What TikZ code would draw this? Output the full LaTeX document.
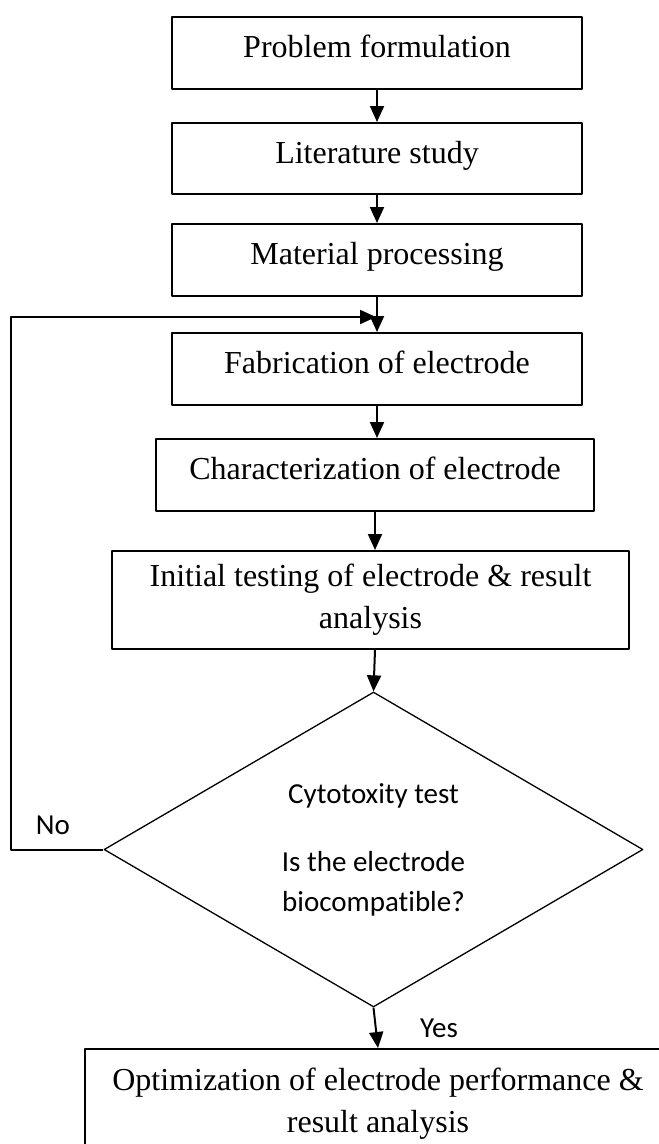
\documentclass[tikz,border=0pt]{standalone}
\usepackage{fontspec}
\setmainfont{Liberation Serif}
\newfontfamily\calibri[Ligatures=NoCommon]{Carlito}
\usetikzlibrary{shapes.geometric,arrows.meta}

\begin{document}
\begin{tikzpicture}[x=1pt,y=-1pt,line join=round,>={Triangle[length=16pt,width=14pt]},
	box/.style={draw,line width=2pt,inner sep=0pt,align=center,font=\fontsize{32}{42}\selectfont},
	onebox/.style={box,text height=23pt,text depth=14pt},
	decide/.style={draw,diamond,line width=1.3pt,inner sep=0pt,aspect=1.7,align=center,font=\calibri\fontsize{29}{40}\selectfont},
	answer/.style={font=\calibri\fontsize{29}{40}\selectfont},
	flow/.style={->,line width=2pt}]
	\useasboundingbox (0,0) rectangle (659,1144);
	% steps
	\node[onebox,minimum width=410pt,minimum height=72pt] (prob) at (377,53) {Problem formulation};
	\node[onebox,minimum width=410pt,minimum height=71pt] (lit) at (377,158.5) {Literature study};
	\node[onebox,minimum width=410pt,minimum height=72pt] (mat) at (377,260) {Material processing};
	\node[onebox,minimum width=410pt,minimum height=72pt] (fab) at (377,369) {Fabrication of electrode};
	\node[onebox,minimum width=438pt,minimum height=72pt] (char) at (375,475) {Characterization of electrode};
	\node[box,minimum width=517pt,minimum height=98pt] (init) at (370.5,600) {Initial testing of electrode \& result\\analysis};
	\node[decide,minimum width=539pt,minimum height=315pt] (cyto) at (373.5,849.5) {Cytotoxity test\\[28pt]Is the electrode\\biocompatible?};
	\node[box,minimum width=586pt,minimum height=109pt] (opt) at (378,1103.5) {Optimization of electrode performance \&\\result analysis};
	% arrows
	\coordinate (join) at (376,317);
	\draw[flow] (prob.south) -- (lit.north);
	\draw[flow] (lit.south) -- (mat.north);
	\draw[flow] (mat.south) -- (fab.north);
	\draw[flow] (fab.south) -- (fab.south |- char.north);
	\draw[flow] (char.south) -- (char.south |- init.north);
	\draw[flow] (init.south -| char.south) -- (cyto.north);
	\draw[flow] (cyto.south) -- (opt.north) node[midway,right=40pt,answer] (yes) {Yes};
	\draw[flow] (cyto.west) -- ++(-92,0) |- (join);
	\node[answer] (no) at (53,825) {No};
\end{tikzpicture}
\end{document}
